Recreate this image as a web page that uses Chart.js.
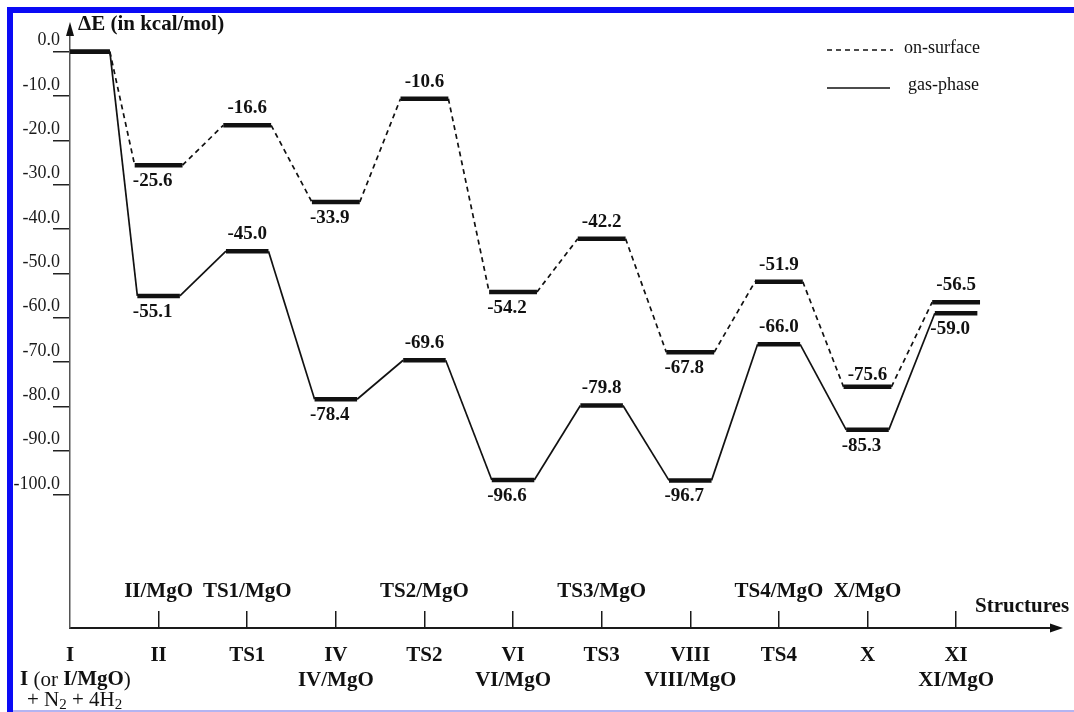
<!DOCTYPE html>
<html>
<head>
<meta charset="utf-8">
<script src="https://cdn.jsdelivr.net/npm/chart.js@4.4.1/dist/chart.umd.min.js"></script>
<style>
  html, body { margin: 0; padding: 0; background: #fff; }
  #wrap { position: relative; width: 1074px; height: 712px; overflow: hidden; background: #fff; }
  canvas { position: absolute; left: 0; top: 0; }
  .frame { position: absolute; background: #0a0af5; }
  #frameLeft { left: 7px; top: 7px; width: 6px; height: 705px; }
  #frameTop { left: 7px; top: 7px; width: 1067px; height: 6px; }
  #frameBottom { left: 13px; top: 710px; width: 1061px; height: 2px; background: #b4b4f2; }
</style>
</head>
<body>
<div id="wrap">
  <canvas id="chart" width="1074" height="712"></canvas>
  <div class="frame" id="frameLeft"></div>
  <div class="frame" id="frameTop"></div>
  <div class="frame" id="frameBottom"></div>
</div>
<script>
// Structures along the reaction path
const structures = ['I', 'II', 'TS1', 'IV', 'TS2', 'VI', 'TS3', 'VIII', 'TS4', 'X', 'XI'];
const surfaceNames = ['I/MgO', 'II/MgO', 'TS1/MgO', 'IV/MgO', 'TS2/MgO', 'VI/MgO', 'TS3/MgO', 'VIII/MgO', 'TS4/MgO', 'X/MgO', 'XI/MgO'];

// Relative energies, kcal/mol
const onSurface = [0.0, -25.6, -16.6, -33.9, -10.6, -54.2, -42.2, -67.8, -51.9, -75.6, -56.5];
const gasPhase  = [0.0, -55.1, -45.0, -78.4, -69.6, -96.6, -79.8, -96.7, -66.0, -85.3, -59.0];

// Energy axis ticks
const yTicks = [0, -10, -20, -30, -40, -50, -60, -70, -80, -90, -100];

// Where each energy label sits relative to its level
const onSurfaceLabelSide = [null, 'below', 'above', 'below', 'above', 'below', 'above', 'below', 'above', 'close', 'above'];
const gasPhaseLabelSide  = [null, 'below', 'above', 'below', 'above', 'below', 'above', 'below', 'above', 'below', 'below'];
// Whether the /MgO name goes above the axis or under the structure name
const surfaceNameSide = ['special', 'above', 'above', 'below', 'above', 'below', 'above', 'below', 'above', 'above', 'below'];

const SERIF = '"Liberation Serif", "Times New Roman", serif';
const INK = '#111';
const LEVEL_W = 4.5;
const LINK_W = 1.7;
const DASH = [5, 4];
const FIRST_LEVEL_END = 0.45;
const HALF_SURFACE = 0.27;
const HALF_GAS = 0.24;
const X_MAX = 11.15;

// Two points per level (start and end of the horizontal bar)
function levelPoints(values, half) {
  const pts = [];
  values.forEach((v, i) => {
    const a = i === 0 ? 0 : i - half;
    const b = i === 0 ? FIRST_LEVEL_END : i + half;
    pts.push({ x: a, y: v }, { x: b, y: v });
  });
  return pts;
}
const isLevel = c => c.p0DataIndex % 2 === 0;

const decorations = {
  id: 'decorations',
  afterDraw(chart) {
    const { ctx, chartArea: area, scales: { x, y } } = chart;
    ctx.save();
    ctx.fillStyle = INK;
    ctx.strokeStyle = INK;

    // axis arrowheads
    ctx.beginPath();
    ctx.moveTo(area.left, area.top - 4);
    ctx.lineTo(area.left - 4, area.top + 10);
    ctx.lineTo(area.left + 4, area.top + 10);
    ctx.closePath();
    ctx.fill();
    ctx.beginPath();
    ctx.moveTo(area.right + 5, area.bottom);
    ctx.lineTo(area.right - 8, area.bottom - 4.5);
    ctx.lineTo(area.right - 8, area.bottom + 4.5);
    ctx.closePath();
    ctx.fill();

    // axis titles
    ctx.textBaseline = 'middle';
    ctx.textAlign = 'left';
    ctx.font = 'bold 21px ' + SERIF;
    ctx.fillText('\u0394E (in kcal/mol)', 78, 25);
    ctx.fillText('Structures', 975, 607);

    // /MgO names above the axis
    ctx.textAlign = 'center';
    surfaceNames.forEach((name, i) => {
      if (surfaceNameSide[i] === 'above') {
        ctx.fillText(name, x.getPixelForValue(i), 592);
      }
    });

    // composite label for the starting structure
    const runs = (parts, startX, cy) => {
      let cx = startX;
      ctx.textAlign = 'left';
      parts.forEach(([text, font, dy]) => {
        ctx.font = font;
        ctx.fillText(text, cx, cy + (dy || 0));
        cx += ctx.measureText(text).width;
      });
    };
    const bold = 'bold 21px ' + SERIF;
    const reg = '21px ' + SERIF;
    const sub = '15px ' + SERIF;
    runs([['I', bold], [' (or ', reg], ['I/MgO', bold], [')', reg]], 20, 680);
    runs([['+ N', reg], ['2', sub, 5], [' + 4H', reg], ['2', sub, 5]], 27, 700);

    // energy labels on each level
    ctx.font = 'bold 19px ' + SERIF;
    ctx.textAlign = 'center';
    const labelSeries = (values, sides) => {
      values.forEach((v, i) => {
        const side = sides[i];
        if (!side) return;
        const px = x.getPixelForValue(i);
        const py = y.getPixelForValue(v);
        let ly = py - 17, lx = px;
        if (side === 'below') { ly = py + 16; lx = px - 6; }
        if (side === 'close') { ly = py - 12; }
        ctx.fillText(v.toFixed(1), lx, ly);
      });
    };
    labelSeries(onSurface, onSurfaceLabelSide);
    labelSeries(gasPhase, gasPhaseLabelSide);

    // legend
    ctx.font = '18px ' + SERIF;
    ctx.textAlign = 'left';
    const legendRows = [[0, 827, 893, 50, 904, 48], [1, 827, 890, 88, 908, 85]];
    legendRows.forEach(([di, x0, x1, ly, tx, ty]) => {
      const ds = chart.data.datasets[di];
      ctx.beginPath();
      ctx.setLineDash(ds.borderDash || []);
      ctx.lineWidth = 1.5;
      ctx.moveTo(x0, ly);
      ctx.lineTo(x1, ly);
      ctx.stroke();
      ctx.setLineDash([]);
      ctx.fillText(ds.label, tx, ty);
    });
    ctx.restore();
  }
};

new Chart(document.getElementById('chart'), {
  type: 'line',
  data: {
    datasets: [
      {
        label: 'on-surface',
        data: levelPoints(onSurface, HALF_SURFACE),
        borderColor: INK,
        borderWidth: LINK_W,
        borderDash: DASH,
        segment: {
          borderWidth: c => isLevel(c) ? LEVEL_W : LINK_W,
          borderDash: c => isLevel(c) ? [] : DASH
        },
        pointRadius: 0,
        tension: 0,
        fill: false
      },
      {
        label: 'gas-phase',
        data: levelPoints(gasPhase, HALF_GAS),
        borderColor: INK,
        borderWidth: LINK_W,
        segment: {
          borderWidth: c => isLevel(c) ? LEVEL_W : LINK_W
        },
        pointRadius: 0,
        tension: 0,
        fill: false
      }
    ]
  },
  options: {
    responsive: false,
    animation: false,
    devicePixelRatio: 1,
    layout: { padding: { left: 10, right: 16, top: 26, bottom: 0 } },
    plugins: { legend: { display: false }, tooltip: { enabled: false } },
    scales: {
      x: {
        type: 'linear',
        min: 0,
        max: X_MAX,
        afterBuildTicks: s => { s.ticks = structures.map((_, i) => ({ value: i })); },
        afterFit: s => { s.height = 84; },
        border: { display: true, color: '#1a1a1a', width: 2 },
        grid: {
          drawOnChartArea: false,
          drawTicks: true,
          tickLength: -17,
          lineWidth: 1.5,
          color: c => c.index === 0 ? 'rgba(0,0,0,0)' : '#1a1a1a'
        },
        ticks: {
          autoSkip: false,
          maxRotation: 0,
          minRotation: 0,
          padding: 32,
          color: INK,
          font: { family: SERIF, size: 21, weight: 'bold', lineHeight: 1.2 },
          callback: v => {
            const i = Math.round(v);
            return surfaceNameSide[i] === 'below' ? [structures[i], surfaceNames[i]] : structures[i];
          }
        }
      },
      y: {
        min: -130,
        max: 5.8,
        afterBuildTicks: s => { s.ticks = yTicks.map(v => ({ value: v })); },
        afterFit: s => { s.width = 60; },
        border: { display: true, color: '#555', width: 1.5 },
        grid: { drawOnChartArea: false, tickLength: 17, lineWidth: 1.5, color: '#222' },
        ticks: {
          padding: -7,
          labelOffset: -11,
          color: '#1a1a1a',
          font: { family: SERIF, size: 18 },
          callback: v => Number(v).toFixed(1)
        }
      }
    }
  },
  plugins: [decorations]
});
</script>
</body>
</html>
